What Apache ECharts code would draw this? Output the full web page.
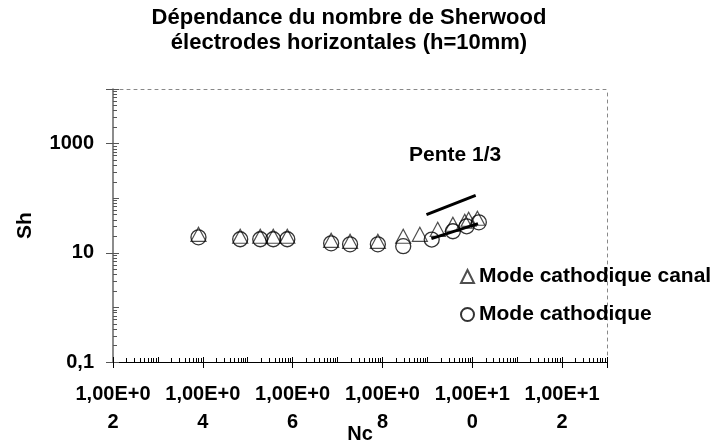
<!DOCTYPE html>
<html>
<head>
<meta charset="utf-8">
<script src="https://cdn.jsdelivr.net/npm/echarts@6/dist/echarts.min.js"></script>
<style>
  html, body { margin: 0; padding: 0; background: #fff; }
  #chart { width: 717px; height: 446px; }
</style>
</head>
<body>
<div id="chart"></div>
<script>
// Sherwood number vs Nc (log-log)
var canalNc = [8.0e3, 6.8e4, 1.9e5, 3.7e5, 7.6e5, 7.2e6, 1.9e7, 7.9e7, 2.9e8, 6.8e8, 1.7e9, 3.7e9, 6.8e9, 8.3e9, 1.3e10];
var canalSh = [21.8, 20.1, 20.1, 20.1, 20.1, 16.9, 16.2, 16.2, 20.1, 21.8, 26.9, 33.3, 37.8, 41.1, 42.9];
var cathNc = [8.0e3, 6.8e4, 1.9e5, 3.7e5, 7.6e5, 7.2e6, 1.9e7, 7.9e7, 2.9e8, 1.25e9, 3.7e9, 7.5e9, 1.4e10];
var cathSh = [19.2, 17.7, 17.7, 17.7, 17.7, 14.9, 14.3, 14.3, 13.2, 17.5, 24.8, 30.6, 36.2];
// slope lines
var penteHaut = [[9.55e8, 50.1], [1.19e10, 113]];
var penteBas = [[1.23e9, 18.2], [1.34e10, 34.3]];

var serieNames = ['Mode cathodique canal', 'Mode cathodique'];
var titre = 'Dépendance du nombre de Sherwood\nélectrodes horizontales (h=10mm)';

var font = "'Liberation Sans', Arial, sans-serif";

function zip(xs, ys) {
  return xs.map(function (x, i) { return [x, ys[i]]; });
}
function expOf(v) { return Math.round(Math.log(v) / Math.LN10); }

var chart = echarts.init(document.getElementById('chart'));

var option = {
  animation: false,
  textStyle: { fontFamily: font },
  grid: { left: 113, right: 110, top: 89, bottom: 84, containLabel: false, outerBoundsMode: 'none' },
  graphic: [
    {
      type: 'text', x: 349, y: 5, z: 10,
      style: {
        text: titre, align: 'center', verticalAlign: 'top',
        font: 'bold 22px ' + font, lineHeight: 25, fill: '#000'
      }
    },
    {
      type: 'text', left: 409, top: 145,
      style: { text: 'Pente 1/3', font: 'bold 21px ' + font, fill: '#000' }
    }
  ],
  legend: {
    orient: 'vertical', left: 455, top: 261,
    itemWidth: 13, itemHeight: 13, itemGap: 17,
    data: serieNames,
    textStyle: { fontSize: 21, fontWeight: 'bold', color: '#000', fontFamily: font }
  },
  xAxis: [
    {
      type: 'log', logBase: 10, min: 100, max: 1e13, interval: 2,
      position: 'bottom',
      name: 'Nc', nameLocation: 'middle', nameGap: 62, nameMoveOverlap: false,
      nameTextStyle: { fontSize: 20, fontWeight: 'bold', color: '#000' },
      axisLine: { lineStyle: { color: '#000', width: 1 } },
      axisTick: { show: true, length: 6, lineStyle: { color: '#000' } },
      axisLabel: {
        margin: 18, fontSize: 20, fontWeight: 'bold', color: '#000', lineHeight: 28,
        formatter: function (v) {
          var e = expOf(v);
          if (e % 2 !== 0) return '';
          var s = (e < 10 ? '0' : '') + e;
          return '1,00E+' + s.charAt(0) + '\n' + s.charAt(1);
        }
      },
      splitLine: { show: false }
    },
    {
      type: 'log', logBase: 10, min: 100, max: 1e13, interval: 1,
      position: 'bottom',
      axisLine: { show: false },
      axisTick: { show: true, inside: true, length: 5, lineStyle: { color: '#000' } },
      minorTick: { show: true, splitNumber: 9, length: 4, lineStyle: { color: '#000' } },
      axisLabel: { show: false },
      splitLine: { show: false }
    },
    {
      type: 'log', logBase: 10, min: 100, max: 1e13,
      position: 'top',
      axisLine: { lineStyle: { color: '#888', type: [3, 4], width: 1 } },
      axisTick: { show: false }, axisLabel: { show: false }, splitLine: { show: false }
    }
  ],
  yAxis: [
    {
      type: 'log', logBase: 10, min: 0.1, max: 1e4, interval: 2,
      position: 'left',
      name: 'Sh', nameLocation: 'middle', nameGap: 77, nameRotate: 90, nameMoveOverlap: false,
      nameTextStyle: { fontSize: 21, fontWeight: 'bold', color: '#000' },
      axisLine: { lineStyle: { color: '#666', width: 1.5 } },
      axisTick: { show: true, length: 7, lineStyle: { color: '#555' } },
      axisLabel: {
        margin: 19, fontSize: 20, fontWeight: 'bold', color: '#000',
        formatter: function (v) {
          var e = expOf(v);
          if (e === -1) return '0,1';
          if (e % 2 === 0) return '';
          return String(Math.round(v));
        }
      },
      splitLine: { show: false }
    },
    {
      type: 'log', logBase: 10, min: 0.1, max: 1e4, interval: 1,
      position: 'left',
      axisLine: { show: false },
      axisTick: { show: true, inside: true, length: 6, lineStyle: { color: '#555' } },
      minorTick: { show: true, splitNumber: 9, length: 4, lineStyle: { color: '#555' } },
      axisLabel: { show: false },
      splitLine: { show: false }
    },
    {
      type: 'log', logBase: 10, min: 0.1, max: 1e4,
      position: 'right',
      axisLine: { lineStyle: { color: '#888', type: [3, 4], width: 1 } },
      axisTick: { show: false }, axisLabel: { show: false }, splitLine: { show: false }
    }
  ],
  series: [
    {
      name: serieNames[0], type: 'scatter', xAxisIndex: 0, yAxisIndex: 0,
      symbol: 'triangle', symbolSize: [15, 14],
      itemStyle: { color: 'rgba(0,0,0,0)', borderColor: '#222', borderWidth: 1.2 },
      data: zip(canalNc, canalSh), z: 3
    },
    {
      name: serieNames[1], type: 'scatter', xAxisIndex: 0, yAxisIndex: 0,
      symbol: 'circle', symbolSize: 15,
      itemStyle: { color: 'rgba(0,0,0,0)', borderColor: '#000', borderWidth: 1.3 },
      data: zip(cathNc, cathSh), z: 4
    },
    {
      name: 'pente1', type: 'line', xAxisIndex: 0, yAxisIndex: 0,
      data: penteHaut, showSymbol: false, symbol: 'none', silent: true,
      lineStyle: { color: '#000', width: 3 }, z: 5
    },
    {
      name: 'pente2', type: 'line', xAxisIndex: 0, yAxisIndex: 0,
      data: penteBas, showSymbol: false, symbol: 'none', silent: true,
      lineStyle: { color: '#000', width: 3 }, z: 5
    }
  ]
};

chart.setOption(option);
</script>
</body>
</html>
